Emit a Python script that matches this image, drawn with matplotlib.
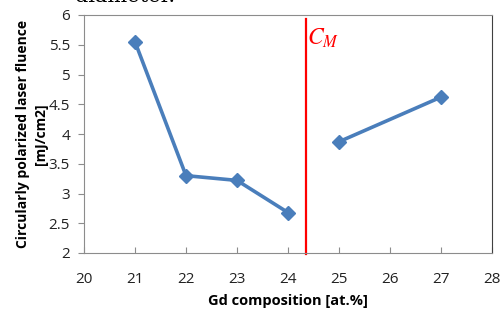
import matplotlib.pyplot as plt

# data
gd_left = [21, 22, 23, 24]
fluence_left = [5.55, 3.30, 3.22, 2.68]
gd_right = [25, 27]
fluence_right = [3.87, 4.62]
c_m = 24.35

BLUE = '#4a7ebb'
plt.rcParams['mathtext.fontset'] = 'stix'

fig = plt.figure(figsize=(5.01, 3.2), dpi=100)
ax = fig.add_axes([84/501, 1 - 253/320, (492-84)/501, (253-15)/320])

ax.plot(gd_left, fluence_left, color=BLUE, lw=2.6, marker='D', ms=7.5)
ax.plot(gd_right, fluence_right, color=BLUE, lw=2.6, marker='D', ms=7.5)

ax.plot([c_m, c_m], [1.98, 5.93], color='#ff0000', lw=1.6, clip_on=False)
ax.text(c_m + 0.03, 5.62, r'$C_M$', color='#ff0000', fontsize=17,
        va='center', ha='left')

ax.set_xlim(20, 28)
ax.set_ylim(2, 6)
ax.set_xticks(range(20, 29))
ax.set_yticks([2, 2.5, 3, 3.5, 4, 4.5, 5, 5.5, 6])
ax.set_yticklabels(['2', '2.5', '3', '3.5', '4', '4.5', '5', '5.5', '6'])

for s in ['left', 'bottom', 'top']:
    ax.spines[s].set_color('#8c8c8c')
ax.spines['right'].set_color('#404040')
ax.tick_params(axis='x', direction='in', length=4, color='#8c8c8c',
               labelsize=11, pad=14, labelcolor='#222222')
ax.tick_params(axis='y', direction='out', length=4, color='#8c8c8c',
               labelsize=11, pad=6, labelcolor='#222222')
for lab in ax.get_xticklabels() + ax.get_yticklabels():
    lab.set_family('Open Sans')

ax.set_xlabel('Gd composition [at.%]', fontsize=10.5, fontweight='bold',
              family='Open Sans', labelpad=5)
ax.set_ylabel('Circularly polarized laser fluence\n[mJ/cm2]', fontsize=10,
              fontweight='bold', family='Open Sans', linespacing=1.35)
ax.yaxis.set_label_coords(-0.088, 0.5)

# cropped caption text at the very top
fig.text(75/501, 1 - 1.5/320, 'diameter.', fontsize=15, family='DejaVu Serif',
         va='baseline', ha='left')

fig.savefig('out.png', dpi=100)
